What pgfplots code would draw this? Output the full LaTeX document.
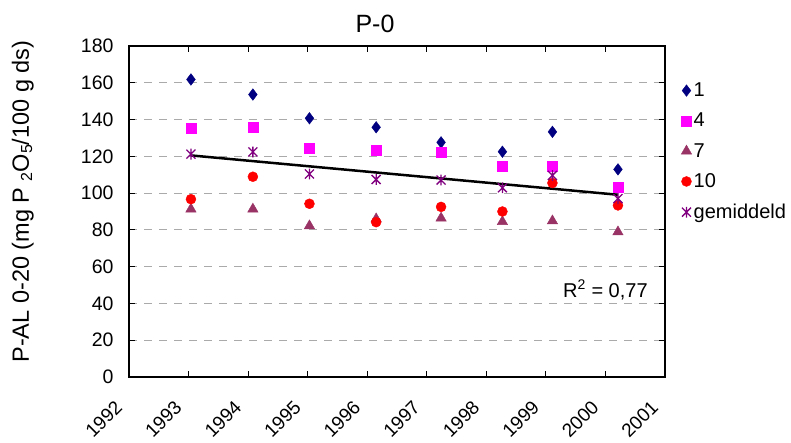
\documentclass[border=0pt]{standalone}
\usepackage{pgfplots}
\pgfplotsset{compat=1.18}
\usepackage{fontspec}
\setmainfont{Liberation Sans}
\definecolor{cnavy}{RGB}{0,0,128}
\definecolor{cmag}{RGB}{255,0,255}
\definecolor{ctri}{RGB}{153,51,102}
\definecolor{cred}{RGB}{255,0,0}
\definecolor{cpur}{RGB}{128,0,128}
\definecolor{cgrid}{RGB}{170,170,170}
\pgfdeclareplotmark{xstar}{%
  \pgfpathmoveto{\pgfqpoint{-\pgfplotmarksize}{-\pgfplotmarksize}}%
  \pgfpathlineto{\pgfqpoint{\pgfplotmarksize}{\pgfplotmarksize}}%
  \pgfpathmoveto{\pgfqpoint{-\pgfplotmarksize}{\pgfplotmarksize}}%
  \pgfpathlineto{\pgfqpoint{\pgfplotmarksize}{-\pgfplotmarksize}}%
  \pgfpathmoveto{\pgfqpoint{0pt}{-1.2\pgfplotmarksize}}%
  \pgfpathlineto{\pgfqpoint{0pt}{1.2\pgfplotmarksize}}%
  \pgfusepathqstroke}
\begin{document}
\begin{tikzpicture}
\path[use as bounding box] (-129pt,-66pt) rectangle (662pt,377pt);
\begin{axis}[
  at={(0,0)}, anchor=south west,
  scale only axis,
  width=536pt, height=331pt,
  xmin=1992, xmax=2001, ymin=0, ymax=180,
  xtick={1992,1993,...,2001},
  ytick={0,20,...,180},
  /pgf/number format/assume math mode=true,
  /pgf/number format/1000 sep={},
  font=\fontsize{20}{24}\selectfont,
  tick label style={font=\fontsize{19.5}{22}\selectfont},
  tick align=inside,
  major tick length=6pt,
  tick style={black, line width=1pt},
  axis line style={black, line width=1.3pt},
  ymajorgrids,
  grid style={cgrid, line width=1pt, dash pattern=on 8pt off 7pt},
  yticklabel style={anchor=east, xshift=-12pt},
  xticklabel style={inner sep=0pt, font=\fontsize{19}{22}\selectfont, xshift=-15pt, yshift=-22pt, rotate=45, anchor=north east},
  ylabel={P-AL 0-20 (mg P \raisebox{-0.25ex}{\fontsize{16}{18}\selectfont 2}O\raisebox{-0.25ex}{\fontsize{16}{18}\selectfont 5}/100 g ds)},
  ylabel style={at={(axis description cs:-0.198,0.53)}, anchor=center, font=\fontsize{23.5}{26}\selectfont},
  legend style={draw=none, fill=none, at={(axis description cs:1.03,0.895)}, anchor=north west,
    row sep=11pt, font=\fontsize{20}{24}\selectfont, inner sep=0pt},
  legend cell align=left,
  clip=false,
]
\addplot[only marks, mark=diamond*, mark size=5.8pt, color=cnavy] coordinates {
(1993.04,161.8) (1994.08,153.6) (1995.03,140.7) (1996.15,135.8) (1997.24,127.6) (1998.27,122.5) (1999.11,133.3) (2000.21,112.9)};
\addlegendentry{1}
\addplot[only marks, mark=square*, mark size=5pt, color=cmag] coordinates {
(1993.04,135.1) (1994.08,135.8) (1995.03,124.5) (1996.15,123.6) (1997.24,122.0) (1998.27,114.7) (1999.11,114.7) (2000.21,103.0)};
\addlegendentry{4}
\addplot[only marks, mark=triangle*, mark size=6pt, color=ctri] coordinates {
(1993.04,91.3) (1994.08,91.3) (1995.03,82.2) (1996.15,86.0) (1997.24,86.4) (1998.27,84.5) (1999.11,84.9) (2000.21,78.9)};
\addlegendentry{7}
\addplot[only marks, mark=*, mark size=5pt, color=cred] coordinates {
(1993.04,96.7) (1994.08,108.9) (1995.03,94.2) (1996.15,84.2) (1997.24,92.5) (1998.27,90.0) (1999.11,105.5) (2000.21,93.3)};
\addlegendentry{10}
\addplot[only marks, mark=xstar, mark size=4.5pt, mark options={line width=1.3pt}, color=cpur] coordinates {
(1993.04,121.2) (1994.08,122.4) (1995.03,110.4) (1996.15,107.4) (1997.24,107.1) (1998.27,102.9) (1999.11,109.6) (2000.21,97.0)};
\addlegendentry{gemiddeld}
\addplot[black, line width=2.5pt, forget plot] coordinates {(1993.04,120.5) (2000.21,99.1)};
\node[anchor=center] at (axis cs:2000,47.5) {R\textsuperscript{2} = 0,77};
\node[anchor=center, font=\fontsize{25}{28}\selectfont] at (axis description cs:0.459,1.068) {P-0};
\end{axis}
\end{tikzpicture}
\end{document}
